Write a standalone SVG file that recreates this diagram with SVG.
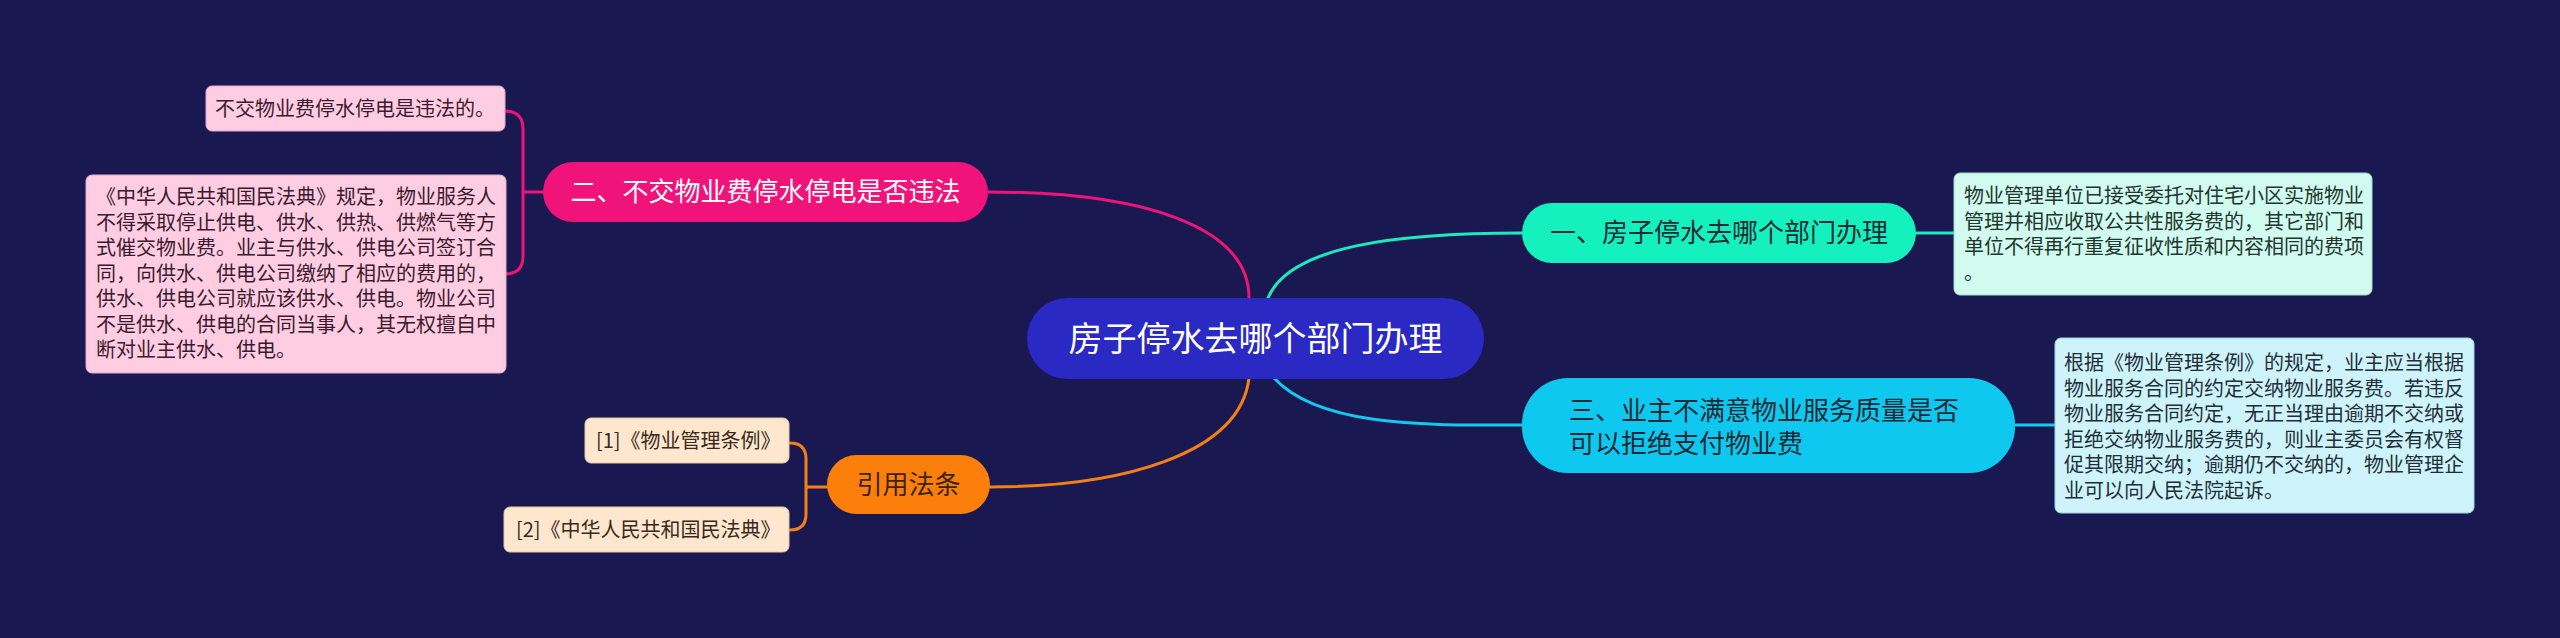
<svg xmlns="http://www.w3.org/2000/svg" width="2560" height="638" viewBox="0 0 2560 638">
<style>
text{font-family:"Noto Sans CJK SC","Noto Sans",sans-serif;}
.root{font-size:34px;fill:#ffffff;}
.main{font-size:26px;}
.det{font-size:20px;}
.conn{fill:none;stroke-width:3;stroke-linecap:round;}
</style>
<rect x="0" y="0" width="2560" height="638" fill="#1a1850"/>
<g id="connectors">
  <path class="conn" stroke="#ee1478" d="M988,192 C1140,192 1249,225 1249,298"/>
  <path class="conn" stroke="#1ee8be" d="M1268,298 C1290,245 1400,233 1522,233"/>
  <path class="conn" stroke="#f57f17" d="M1249,378 C1240,455 1120,487 990,487"/>
  <path class="conn" stroke="#14c8ee" d="M1274,378 C1320,428 1430,425 1522,425"/>
  <path class="conn" stroke="#1ee8be" d="M1916,233 L1954,233"/>
  <path class="conn" stroke="#14c8ee" d="M2015,425 L2055,425"/>
  <path class="conn" stroke="#ee1478" d="M543,192 L523,192 M505,111 Q523,111 523,129 L523,256 Q523,274 505,274"/>
  <path class="conn" stroke="#f57f17" d="M827,487 L806,487 M790,443 Q806,443 806,459 L806,514 Q806,530 790,530"/>
</g>
<g id="root">
  <rect x="1027" y="298" width="457" height="81" rx="40.5" fill="#2b29c3"/>
  <text class="root" x="1255.5" y="351" text-anchor="middle">房子停水去哪个部门办理</text>
</g>
<g id="node1">
  <rect x="1522" y="203" width="394" height="60" rx="30" fill="#14f0be"/>
  <text class="main" x="1719" y="242" text-anchor="middle" fill="#1b2a33">一、房子停水去哪个部门办理</text>
</g>
<g id="detail1">
  <rect x="1954" y="173" width="418" height="122" rx="6" fill="#d2fbef" stroke="#9fd8cc" stroke-width="1"/>
  <text class="det" fill="#22352e">
    <tspan x="1964" y="203">物业管理单位已接受委托对住宅小区实施物业</tspan>
    <tspan x="1964" y="228.5">管理并相应收取公共性服务费的，其它部门和</tspan>
    <tspan x="1964" y="254">单位不得再行重复征收性质和内容相同的费项</tspan>
    <tspan x="1964" y="279.5">。</tspan>
  </text>
</g>
<g id="node2">
  <rect x="543" y="162" width="445" height="60" rx="30" fill="#f0137a"/>
  <text class="main" x="765.5" y="201" text-anchor="middle" fill="#ffffff">二、不交物业费停水停电是否违法</text>
</g>
<g id="detail2a">
  <rect x="206" y="86" width="299" height="45" rx="6" fill="#ffcde2" stroke="#e7a9c4" stroke-width="1"/>
  <text class="det" x="215" y="116" fill="#3a1a2e">不交物业费停水停电是违法的。</text>
</g>
<g id="detail2b">
  <rect x="86" y="175" width="420" height="198" rx="6" fill="#ffcde2" stroke="#e7a9c4" stroke-width="1"/>
  <text class="det" fill="#3a1a2e">
    <tspan x="96" y="204">《中华人民共和国民法典》规定，物业服务人</tspan>
    <tspan x="96" y="229.5">不得采取停止供电、供水、供热、供燃气等方</tspan>
    <tspan x="96" y="255">式催交物业费。业主与供水、供电公司签订合</tspan>
    <tspan x="96" y="280.5">同，向供水、供电公司缴纳了相应的费用的，</tspan>
    <tspan x="96" y="306">供水、供电公司就应该供水、供电。物业公司</tspan>
    <tspan x="96" y="331.5">不是供水、供电的合同当事人，其无权擅自中</tspan>
    <tspan x="96" y="357">断对业主供水、供电。</tspan>
  </text>
</g>
<g id="node3">
  <rect x="1522" y="378" width="493" height="95" rx="46" fill="#0ec8ef"/>
  <text class="main" fill="#1b2a33">
    <tspan x="1569" y="420">三、业主不满意物业服务质量是否</tspan>
    <tspan x="1569" y="453">可以拒绝支付物业费</tspan>
  </text>
</g>
<g id="detail3">
  <rect x="2055" y="338" width="419" height="175" rx="6" fill="#cff3fb" stroke="#9fd3e2" stroke-width="1"/>
  <text class="det" fill="#1e2f38">
    <tspan x="2064" y="370">根据《物业管理条例》的规定，业主应当根据</tspan>
    <tspan x="2064" y="395.5">物业服务合同的约定交纳物业服务费。若违反</tspan>
    <tspan x="2064" y="421">物业服务合同约定，无正当理由逾期不交纳或</tspan>
    <tspan x="2064" y="446.5">拒绝交纳物业服务费的，则业主委员会有权督</tspan>
    <tspan x="2064" y="472">促其限期交纳；逾期仍不交纳的，物业管理企</tspan>
    <tspan x="2064" y="497.5">业可以向人民法院起诉。</tspan>
  </text>
</g>
<g id="node4">
  <rect x="827" y="455" width="163" height="59" rx="29.5" fill="#fc7e0b"/>
  <text class="main" x="908.5" y="494" text-anchor="middle" fill="#3a2410">引用法条</text>
</g>
<g id="ref1">
  <rect x="585" y="418" width="204" height="45" rx="6" fill="#ffe7cf" stroke="#e8c6a4" stroke-width="1"/>
  <text class="det" x="596" y="448" fill="#3a2a1a">[1]《物业管理条例》</text>
</g>
<g id="ref2">
  <rect x="504" y="507" width="285" height="45" rx="6" fill="#ffe7cf" stroke="#e8c6a4" stroke-width="1"/>
  <text class="det" x="516" y="537" fill="#3a2a1a">[2]《中华人民共和国民法典》</text>
</g>
</svg>
